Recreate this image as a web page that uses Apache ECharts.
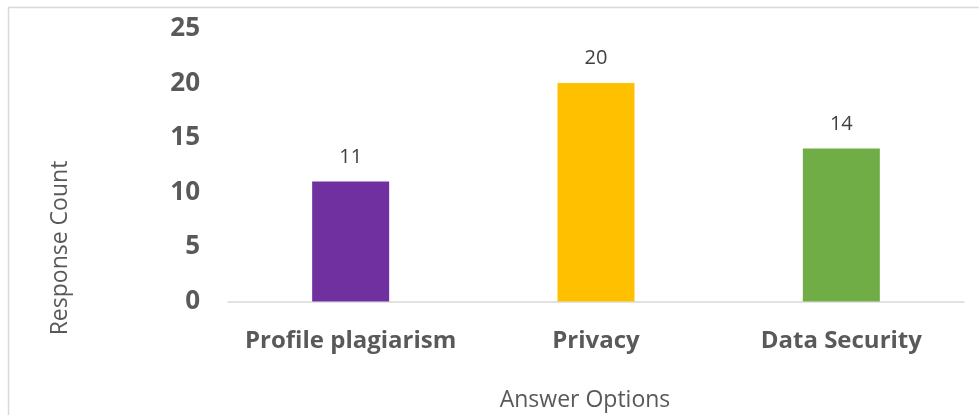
<!DOCTYPE html>
<html>
<head>
<meta charset="utf-8">
<script src="https://cdn.jsdelivr.net/npm/echarts@6/dist/echarts.min.js"></script>
<style>
  html, body { margin: 0; padding: 0; background: #ffffff; }
  #chart { width: 979px; height: 415px; }
</style>
</head>
<body>
<div id="chart"></div>
<script>
// Survey answers and their counts
const categories = ['Profile plagiarism', 'Privacy', 'Data Security'];
const responseCounts = [11, 20, 14];
const barColors = ['#7030A0', '#FFC000', '#70AD47'];
const yTicks = [0, 5, 10, 15, 20, 25];
const xTitle = 'Answer Options';
const yTitle = 'Response Count';

const textColor = '#595959';
const fontFamily = '"Open Sans", "Noto Sans", sans-serif';

const chart = echarts.init(document.getElementById('chart'), null, { renderer: 'canvas' });

chart.setOption({
  animation: false,
  backgroundColor: '#ffffff',
  graphic: [
    {
      // chart-area frame
      type: 'rect',
      silent: true,
      shape: { x: 8.5, y: 7.5, width: 1100, height: 600 },
      style: { fill: 'none', stroke: '#d9d9d9', lineWidth: 1.5 }
    },
    {
      // axis titles are centred on the chart area rather than the plot
      type: 'text',
      silent: true,
      x: 585, y: 400,
      style: {
        text: xTitle, fill: textColor, font: '23px ' + fontFamily,
        textAlign: 'center', textVerticalAlign: 'middle'
      }
    },
    {
      type: 'text',
      silent: true,
      x: 60, y: 248,
      rotation: Math.PI / 2,
      style: {
        text: yTitle, fill: textColor, font: '23px ' + fontFamily,
        textAlign: 'center', textVerticalAlign: 'middle'
      }
    }
  ],
  grid: {
    left: 228, right: 15, top: 28.5, bottom: 113.5,
    containLabel: false,
    outerBoundsMode: 'none'
  },
  xAxis: {
    type: 'category',
    data: categories,
    axisLine: { show: true, lineStyle: { color: '#d9d9d9', width: 1.5 } },
    axisTick: { show: false },
    axisLabel: {
      color: textColor, fontFamily, fontSize: 24, fontWeight: 'bold',
      margin: 28, interval: 0
    }
  },
  yAxis: {
    type: 'value',
    min: yTicks[0],
    max: yTicks[yTicks.length - 1],
    interval: yTicks[1] - yTicks[0],
    axisLine: { show: false },
    axisTick: { show: false },
    splitLine: { show: false },
    axisLabel: {
      color: textColor, fontFamily, fontSize: 26, fontWeight: 'bold',
      margin: 28
    }
  },
  series: [{
    type: 'bar',
    barWidth: 77,
    data: responseCounts.map((v, i) => ({ value: v, itemStyle: { color: barColors[i] } })),
    label: {
      show: true,
      position: 'top',
      distance: 14.5,
      color: '#404040',
      fontFamily,
      fontSize: 20
    }
  }]
});
</script>
</body>
</html>
